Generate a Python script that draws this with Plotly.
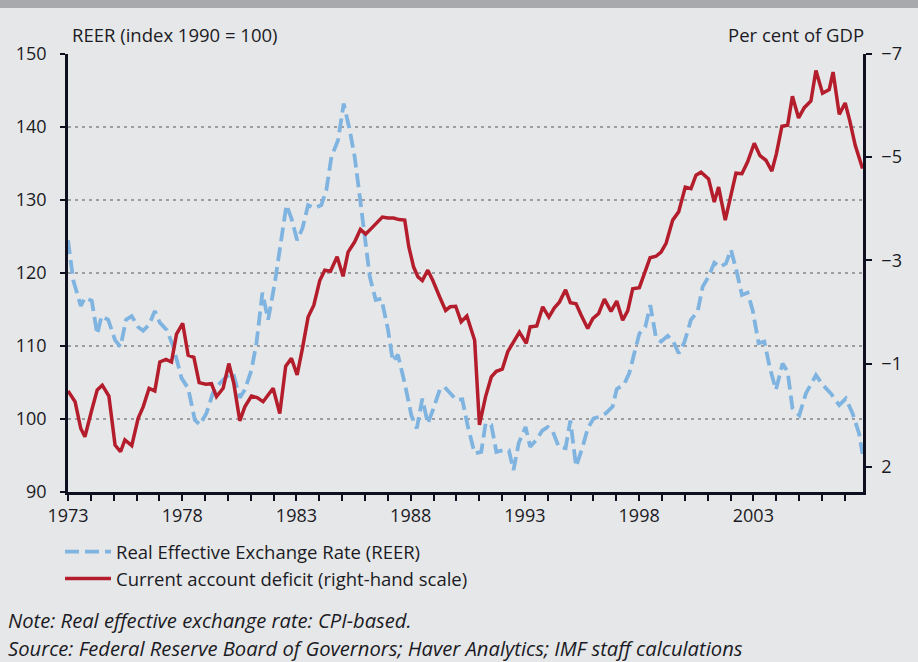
import plotly.graph_objects as go

# ---------------- data ----------------
reer_years = [1973.0, 1973.23, 1973.56, 1973.74, 1974.04, 1974.28, 1974.47, 1974.76, 1975.06, 1975.30,
              1975.54, 1975.79, 1976.07, 1976.29, 1976.55, 1976.80, 1977.02, 1977.32, 1977.60, 1977.97,
              1978.26, 1978.55, 1978.77, 1979.06, 1979.35, 1979.65, 1979.94, 1980.23, 1980.52, 1980.74,
              1981.03, 1981.25, 1981.51, 1981.76, 1982.05, 1982.30, 1982.56, 1982.78, 1983.03, 1983.26,
              1983.51, 1983.80, 1984.09, 1984.31, 1984.53, 1984.82, 1985.07, 1985.33, 1985.55, 1985.77,
              1985.99, 1986.21, 1986.47, 1986.72, 1987.01, 1987.22, 1987.44, 1987.74, 1988.03, 1988.27,
              1988.51, 1988.75, 1988.97, 1989.27, 1989.48, 1989.78, 1990.00, 1990.26, 1990.50, 1990.80,
              1991.09, 1991.28, 1991.53, 1991.75, 1992.03, 1992.30, 1992.50, 1992.73, 1993.03, 1993.23,
              1993.49, 1993.76, 1994.00, 1994.22, 1994.48, 1994.78, 1994.99, 1995.24, 1995.53, 1995.75,
              1996.01, 1996.26, 1996.55, 1996.84, 1997.02, 1997.35, 1997.57, 1997.79, 1998.01, 1998.27,
              1998.49, 1998.74, 1998.96, 1999.25, 1999.50, 1999.73, 1999.98, 2000.27, 2000.56, 2000.78,
              2001.04, 2001.29, 2001.54, 2001.80, 2002.02, 2002.27, 2002.50, 2002.75, 2002.97, 2003.23,
              2003.48, 2003.73, 2003.99, 2004.28, 2004.50, 2004.71, 2005.01, 2005.30, 2005.74, 2006.03,
              2006.39, 2006.76, 2007.05, 2007.34, 2007.63, 2007.78]
reer_values = [124.5, 119.0, 115.5, 116.6, 116.2, 111.6, 114.1, 113.6, 110.8, 109.9,
               113.6, 114.1, 112.6, 112.1, 112.9, 114.8, 113.2, 112.2, 110.0, 105.6,
               104.2, 99.9, 99.2, 100.8, 103.6, 104.9, 105.8, 106.3, 102.9, 104.0,
               106.7, 110.4, 117.3, 113.6, 118.6, 124.1, 129.3, 127.5, 124.5, 126.1,
               129.3, 128.9, 129.3, 131.4, 135.9, 138.2, 143.2, 139.6, 135.9, 130.5,
               125.4, 119.5, 116.3, 116.5, 112.2, 107.9, 108.8, 104.9, 100.5, 98.7,
               102.8, 99.4, 101.2, 104.0, 104.4, 103.3, 102.6, 102.7, 99.0, 95.3,
               95.5, 99.4, 99.2, 95.5, 95.7, 95.7, 93.0, 96.7, 98.9, 96.2,
               97.1, 98.4, 98.9, 98.3, 96.2, 96.0, 99.8, 93.5, 96.2, 98.7,
               100.1, 100.3, 100.8, 101.7, 104.1, 104.8, 106.3, 109.0, 111.7, 112.6,
               115.6, 111.1, 110.6, 111.4, 110.6, 109.0, 110.5, 113.6, 114.7, 118.1,
               119.5, 121.4, 120.8, 121.3, 123.2, 120.2, 117.0, 117.3, 114.9, 110.4,
               110.6, 106.9, 104.0, 107.6, 106.5, 101.5, 100.5, 103.5, 106.0, 104.7,
               103.5, 101.9, 102.8, 100.8, 98.0, 95.2]

cad_years = [1973.0, 1973.31, 1973.56, 1973.74, 1974.04, 1974.28, 1974.50, 1974.79, 1975.06, 1975.30,
             1975.49, 1975.79, 1976.07, 1976.29, 1976.55, 1976.80, 1977.02, 1977.29, 1977.53, 1977.75,
             1978.02, 1978.26, 1978.51, 1978.74, 1979.03, 1979.28, 1979.50, 1979.79, 1980.04, 1980.26,
             1980.52, 1980.74, 1981.03, 1981.28, 1981.54, 1981.98, 1982.27, 1982.53, 1982.78, 1983.03,
             1983.26, 1983.51, 1983.76, 1984.02, 1984.24, 1984.49, 1984.78, 1985.04, 1985.26, 1985.55,
             1985.80, 1986.03, 1986.28, 1986.50, 1986.76, 1987.01, 1987.25, 1987.49, 1987.74, 1987.92,
             1988.13, 1988.32, 1988.51, 1988.75, 1988.97, 1989.27, 1989.53, 1989.73, 1989.97, 1990.21,
             1990.46, 1990.80, 1991.01, 1991.28, 1991.53, 1991.75, 1992.01, 1992.25, 1992.50, 1992.76,
             1993.06, 1993.23, 1993.52, 1993.78, 1994.05, 1994.29, 1994.51, 1994.78, 1994.99, 1995.24,
             1995.46, 1995.75, 1995.97, 1996.23, 1996.48, 1996.77, 1997.02, 1997.28, 1997.50, 1997.72,
             1998.01, 1998.23, 1998.48, 1998.74, 1998.96, 1999.18, 1999.47, 1999.73, 2000.02, 2000.27,
             2000.49, 2000.71, 2001.04, 2001.29, 2001.48, 2001.77, 2002.02, 2002.24, 2002.50, 2002.75,
             2003.04, 2003.29, 2003.55, 2003.81, 2004.01, 2004.25, 2004.50, 2004.71, 2004.98, 2005.23,
             2005.52, 2005.74, 2006.03, 2006.32, 2006.49, 2006.76, 2007.02, 2007.22, 2007.46, 2007.78]
cad_values = [-0.47, -0.26, 0.26, 0.42, -0.10, -0.49, -0.58, -0.37, 0.58, 0.71,
              0.48, 0.59, 0.06, -0.16, -0.52, -0.47, -1.03, -1.08, -1.03, -1.57,
              -1.78, -1.16, -1.12, -0.63, -0.60, -0.61, -0.36, -0.52, -1.00, -0.61,
              0.11, -0.16, -0.37, -0.34, -0.26, -0.52, -0.03, -0.95, -1.10, -0.78,
              -1.29, -1.90, -2.13, -2.61, -2.81, -2.79, -3.07, -2.69, -3.16, -3.36,
              -3.60, -3.51, -3.62, -3.73, -3.84, -3.82, -3.82, -3.79, -3.78, -3.26,
              -2.87, -2.68, -2.61, -2.81, -2.61, -2.29, -2.03, -2.10, -2.11, -1.81,
              -1.92, -1.45, 0.19, -0.36, -0.74, -0.85, -0.89, -1.23, -1.42, -1.61,
              -1.39, -1.71, -1.73, -2.10, -1.90, -2.08, -2.19, -2.43, -2.18, -2.16,
              -1.94, -1.68, -1.87, -1.97, -2.25, -2.01, -2.21, -1.84, -2.02, -2.45,
              -2.47, -2.74, -3.05, -3.08, -3.16, -3.33, -3.78, -3.94, -4.42, -4.39,
              -4.65, -4.71, -4.58, -4.13, -4.42, -3.78, -4.23, -4.69, -4.68, -4.91,
              -5.27, -5.03, -4.94, -4.73, -5.07, -5.60, -5.62, -6.18, -5.76, -5.96,
              -6.09, -6.68, -6.24, -6.31, -6.65, -5.83, -6.05, -5.71, -5.23, -4.78]

left_ticks = [90, 100, 110, 120, 130, 140, 150]
right_tickvals = [-7, -5, -3, -1, 1]
right_ticktext = ["\u22127", "\u22125", "\u22123", "\u22121", "2"]
x_label_years = [1973, 1978, 1983, 1988, 1993, 1998, 2003]

series_names = ["Real Effective Exchange Rate (REER)", "Current account deficit (right-hand scale)"]
left_title = "REER (index 1990 = 100)"
right_title = "Per cent of GDP"
note_text = "Note: Real effective exchange rate: CPI-based."
source_text = "Source: Federal Reserve Board of Governors; Haver Analytics; IMF staff calculations"

# ---------------- styling ----------------
BG = "#e6e7e9"
AXIS = "#0e0f1f"
TXT = "#1b1b24"
BLUE = "#80b4e0"
RED = "#b41d2c"
FONT = "Open Sans"
PH = 438.0  # plot height in px
PW = 795.0  # plot width in px

fig = go.Figure()
fig.add_trace(go.Scatter(
    x=reer_years, y=reer_values, name=series_names[0], mode="lines",
    line=dict(color=BLUE, width=3.8, dash="14px,6px"), yaxis="y"))
fig.add_trace(go.Scatter(
    x=cad_years, y=cad_values, name=series_names[1], mode="lines",
    line=dict(color=RED, width=3.5), yaxis="y2"))

fig.update_layout(
    width=918, height=662,
    margin=dict(l=68, r=55, t=54, b=170),
    paper_bgcolor=BG, plot_bgcolor=BG,
    font=dict(family=FONT, color=TXT, size=18),
    showlegend=True,
    legend=dict(x=-8 / PW, y=1 - (533 - 54) / PH, xanchor="left", yanchor="top",
                bgcolor="rgba(0,0,0,0)", font=dict(size=18.5, color=TXT),
                tracegroupgap=0, itemwidth=46),
    xaxis=dict(
        range=[1973, 2007.8], tickmode="array", tickvals=x_label_years,
        ticktext=[str(v) for v in x_label_years],
        ticks="outside", ticklen=6, tickwidth=2, tickcolor=AXIS,
        minor=dict(dtick=1, tick0=1973, ticks="outside", ticklen=6, tickwidth=2, tickcolor=AXIS, showgrid=False),
        showline=True, linecolor=AXIS, linewidth=2.5, showgrid=False, zeroline=False,
        tickfont=dict(size=18, color=TXT)),
    yaxis=dict(
        range=[90, 150], tickmode="array", tickvals=left_ticks,
        ticks="outside", ticklen=5, tickwidth=2, tickcolor=AXIS, ticklabelstandoff=10,
        showline=True, linecolor=AXIS, linewidth=2.5,
        showgrid=True, gridcolor="#9d9ea2", griddash="3px,4px", gridwidth=1.5,
        zeroline=False, tickfont=dict(size=18, color=TXT)),
    yaxis2=dict(
        overlaying="y", side="right", range=[1.49, -7],
        tickmode="array", tickvals=right_tickvals, ticktext=right_ticktext,
        ticks="outside", ticklen=6, tickwidth=2, tickcolor=AXIS, ticklabelstandoff=6,
        showline=True, linecolor=AXIS, linewidth=2.5, showgrid=False, zeroline=False,
        tickfont=dict(size=18, color=TXT)),
    shapes=[dict(type="rect", xref="paper", yref="paper", x0=-0.2, x1=1.2,
                 y0=1 + 46 / PH, y1=1 + 56 / PH, fillcolor="#a7a9ad", line=dict(width=0), layer="below")],
    annotations=[
        dict(text=left_title, xref="paper", yref="paper", x=0.002, y=1 + 20 / PH,
             xanchor="left", yanchor="middle", showarrow=False, font=dict(size=18.5, color=TXT)),
        dict(text=right_title, xref="paper", yref="paper", x=1.004, y=1 + 20 / PH,
             xanchor="right", yanchor="middle", showarrow=False, font=dict(size=18.5, color=TXT)),
        dict(text="<i>" + note_text + "</i>", xref="paper", yref="paper", x=-62 / PW, y=1 - (620 - 54) / PH,
             xanchor="left", yanchor="middle", showarrow=False, font=dict(size=20.2, color=TXT)),
        dict(text="<i>" + source_text + "</i>", xref="paper", yref="paper", x=-62 / PW, y=1 - (648 - 54) / PH,
             xanchor="left", yanchor="middle", showarrow=False, font=dict(size=20.2, color=TXT)),
    ],
)

fig.write_html("out.html", config={"displayModeBar": False},
               post_script="document.body.style.margin='0';document.body.style.background='%s';" % BG)
